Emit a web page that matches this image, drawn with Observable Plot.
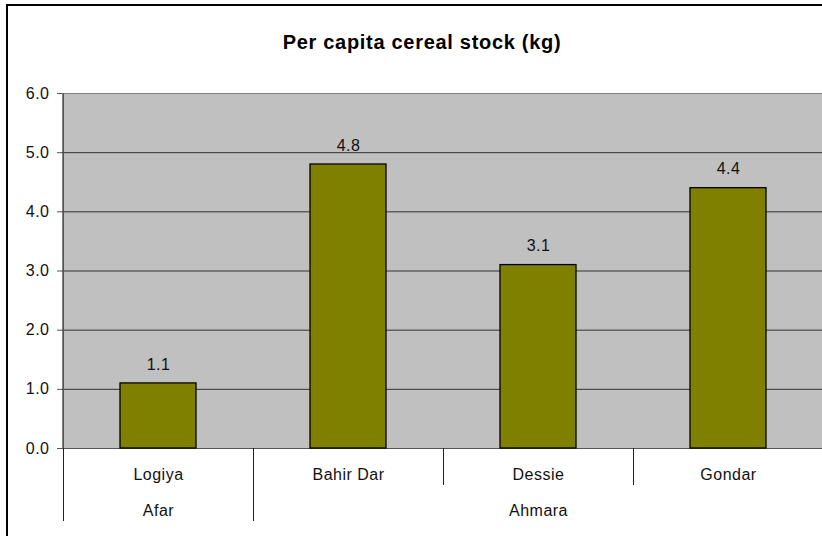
<!DOCTYPE html>
<html>
<head>
<meta charset="utf-8">
<script src="https://cdn.jsdelivr.net/npm/d3@7"></script>
<script src="https://cdn.jsdelivr.net/npm/@observablehq/plot@0.6"></script>
<style>
  html, body { margin: 0; padding: 0; background: #fff; }
  #wrap { position: relative; width: 822px; height: 536px; overflow: hidden; background: #fff; }
  #border { position: absolute; left: 6px; top: 4px; width: 1000px; height: 1000px; border-left: 2px solid #000; border-top: 2px solid #000; }
  #title { position: absolute; left: 0; top: 0; width: 844px; height: 70px; text-align: center;
    font-family: "Liberation Sans", Arial, sans-serif; font-weight: bold; font-size: 20px; letter-spacing: 0.7px;
    line-height: 84px; color: #000; }
  #chart { position: absolute; left: 0; top: 70px; }
  #chart svg text { letter-spacing: 0.5px; }
</style>
</head>
<body>
<div id="wrap">
  <div id="border"></div>
  <div id="title">Per capita cereal stock (kg)</div>
  <div id="chart"></div>
</div>
<script>
const categories = ["Logiya", "Bahir Dar", "Dessie", "Gondar"];
const regions = ["Afar", "Ahmara", "Ahmara", "Ahmara"];
const values = [1.1, 4.8, 3.1, 4.4];
const yTicks = [0, 1, 2, 3, 4, 5, 6];

const data = categories.map((c, i) => ({category: c, region: regions[i], value: values[i]}));
const groupNames = Array.from(new Set(regions));
const groups = groupNames.map(g => {
  const cats = categories.filter((c, i) => regions[i] === g);
  return {region: g, mid: cats[Math.floor(cats.length / 2)]};
});

function separators(index, scales, values, dims) {
  const x = scales.x, y = scales.y;
  const step = x(categories[1]) - x(categories[0]);
  const bw = x.bandwidth ? x.bandwidth() : step * 0.4;
  const gap = (step - bw) / 2;
  const y0 = y(0), yTop = y(6);
  const g = d3.create("svg:g").attr("stroke", "#222").attr("stroke-width", 1).attr("shape-rendering", "crispEdges");
  g.append("line").attr("x1", x(categories[0]) - gap).attr("x2", x(categories[0]) - gap)
    .attr("y1", yTop).attr("y2", y0).attr("stroke", "#555");
  for (let i = 0; i <= categories.length; i++) {
    const xb = i < categories.length ? x(categories[i]) - gap : x(categories[categories.length - 1]) + bw + gap;
    const long = i === 0 || i === categories.length || regions[i] !== regions[i - 1];
    g.append("line").attr("x1", xb).attr("x2", xb).attr("y1", y0).attr("y2", y0 + (long ? 73 : 37));
  }
  return g.node();
}

const chart = Plot.plot({
  width: 822,
  height: 466,
  marginLeft: 62,
  marginRight: -2,
  marginTop: 23,
  marginBottom: 88,
  style: {fontFamily: "'Liberation Sans', Arial, sans-serif", fontSize: "16px", background: "transparent", overflow: "visible"},
  x: {domain: categories, paddingInner: 0.6, paddingOuter: 0.3, axis: null},
  y: {domain: [0, 6], ticks: yTicks, axis: null},
  marks: [
    Plot.frame({fill: "#C0C0C0", stroke: "#808080"}),
    Plot.ruleY(yTicks.filter(t => t > 0 && t < 6), {stroke: "#333", strokeOpacity: 1}),
    Plot.ruleY([0], {stroke: "#555"}),
    Plot.barY(data, {x: "category", y: "value", fill: "#808000", stroke: "#000", strokeWidth: 1.3}),
    Plot.text(data, {x: "category", y: "value", text: d => d.value.toFixed(1), dy: -19, lineAnchor: "middle", fill: "#111", fontSize: 16}),
    Plot.axisY({ticks: yTicks, tickFormat: d3.format(".1f"), tickSize: 5, tickPadding: 8, stroke: "#555", fill: "#111", fontSize: 16, label: null}),
    Plot.text(data, {x: "category", text: "category", frameAnchor: "bottom", dy: 26, lineAnchor: "middle", fill: "#111", fontSize: 16}),
    Plot.text(groups, {x: "mid", text: "region", frameAnchor: "bottom", dy: 62, lineAnchor: "middle", fill: "#111", fontSize: 16}),
    separators
  ]
});
document.getElementById("chart").appendChild(chart);
</script>
</body>
</html>
